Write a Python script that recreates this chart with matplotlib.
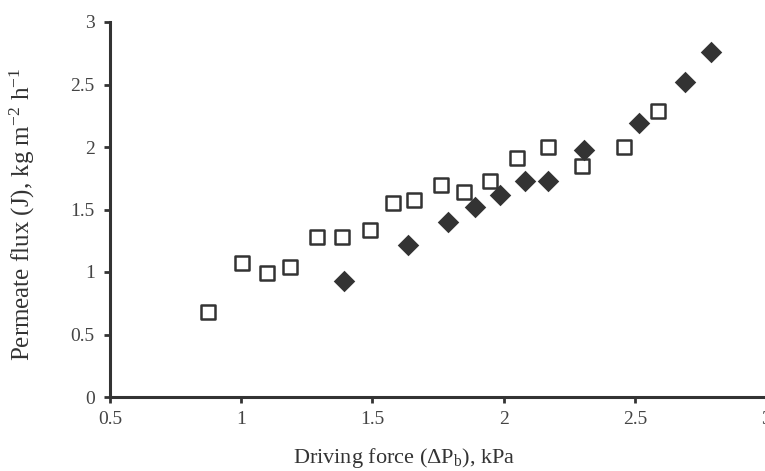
import matplotlib
matplotlib.use("Agg")
import matplotlib.pyplot as plt

plt.rcParams['font.family'] = ['Liberation Serif', 'DejaVu Serif']
plt.rcParams['mathtext.fontset'] = 'custom'
plt.rcParams['mathtext.rm'] = 'Liberation Serif'
plt.rcParams['mathtext.it'] = 'Liberation Serif:italic'

# Open squares series
sq_x = [0.873, 1.003, 1.10, 1.185, 1.29, 1.385, 1.49, 1.58, 1.66, 1.763, 1.85, 1.95, 2.05, 2.17, 2.30, 2.46, 2.587]
sq_y = [0.68, 1.07, 0.99, 1.04, 1.28, 1.28, 1.34, 1.55, 1.58, 1.70, 1.64, 1.73, 1.91, 2.00, 1.85, 2.00, 2.29]

# Filled diamonds series
dm_x = [1.39, 1.637, 1.787, 1.892, 1.985, 2.08, 2.17, 2.306, 2.517, 2.69, 2.79]
dm_y = [0.93, 1.22, 1.40, 1.52, 1.62, 1.73, 1.73, 1.98, 2.19, 2.52, 2.76]

xticks = [0.5, 1, 1.5, 2, 2.5, 3]
xticklabels = ['0.5', '1', '1.5', '2', '2.5', '3']
yticks = [0, 0.5, 1, 1.5, 2, 2.5, 3]
yticklabels = ['0', '0.5', '1', '1.5', '2', '2.5', '3']

col = '#333333'
fig = plt.figure(figsize=(7.65, 4.71), dpi=100)
ax = fig.add_axes([110/765, 1-397/471, 656/765, 375/471])

ax.scatter(sq_x, sq_y, marker='s', s=95, facecolors='white', edgecolors=col, linewidths=1.8, zorder=3)
ax.scatter(dm_x, dm_y, marker='D', s=120, color=col, linewidths=0, zorder=3)

ax.set_xlim(0.5, 3)
ax.set_ylim(0, 3)
ax.set_xticks(xticks)
ax.set_xticklabels(xticklabels)
ax.set_yticks(yticks)
ax.set_yticklabels(yticklabels)
for s in ['top', 'right']:
    ax.spines[s].set_visible(False)
for s in ['left', 'bottom']:
    ax.spines[s].set_linewidth(2.2)
    ax.spines[s].set_color(col)
ax.tick_params(direction='out', length=4, width=2, color=col, labelsize=14, labelcolor='#444444')
ax.tick_params(axis='x', pad=6)
ax.tick_params(axis='y', pad=7)

fig.text(404/765, 1-458/471, 'Driving force (ΔP$_\\mathregular{b}$), kPa', fontsize=16,
         color='#333333', ha='center', va='center')
fig.text(22/765, 1-214/471, 'Permeate flux (J), kg m$^{-2}$ h$^{-1}$', fontsize=18,
         color='#333333', ha='center', va='center', rotation=90)

fig.savefig('out.png', dpi=100)
